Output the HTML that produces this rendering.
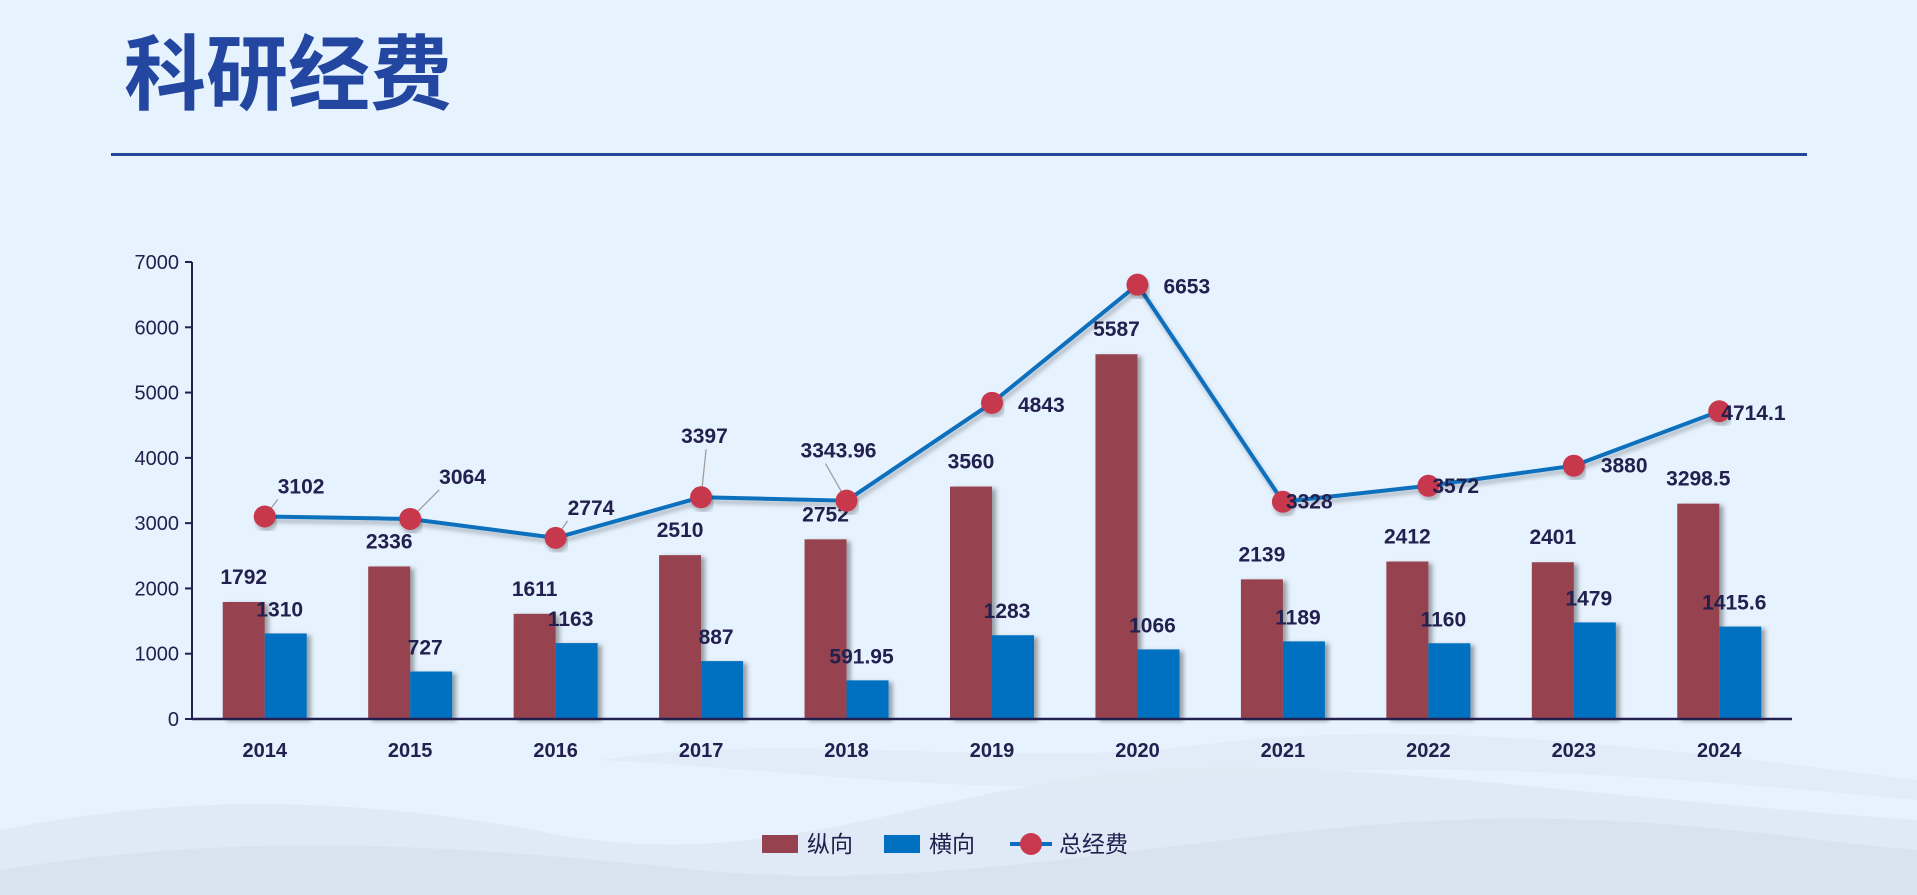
<!DOCTYPE html>
<html><head><meta charset="utf-8"><style>
html,body{margin:0;padding:0;width:1917px;height:895px;overflow:hidden;background:#e6f2fe;}
svg{display:block;}
text{font-family:"Liberation Sans","Noto Sans CJK SC",sans-serif;}
</style></head><body>
<svg id="c" width="1917" height="895" viewBox="0 0 1917 895" xmlns="http://www.w3.org/2000/svg">
<defs>
<filter id="sh" x="-20%" y="-10%" width="150%" height="130%"><feDropShadow dx="4" dy="2" stdDeviation="2.5" flood-color="#000" flood-opacity="0.35"/></filter>
<filter id="lsh" x="-5%" y="-5%" width="110%" height="120%"><feDropShadow dx="2" dy="4" stdDeviation="2" flood-color="#000" flood-opacity="0.25"/></filter>
</defs>
<g>
<path d="M0 830 C200 790 380 800 560 835 C760 870 900 800 1100 775 C1300 750 1500 790 1917 820 L1917 895 L0 895Z" fill="#e0eaf6"/>
<path d="M0 870 C250 830 450 845 700 870 C950 895 1200 830 1450 820 C1650 812 1800 840 1917 850 L1917 895 L0 895Z" fill="#d9e3f0"/>
<path d="M600 760 C800 730 1000 770 1200 745 C1400 720 1600 740 1917 780 L1917 800 C1600 770 1400 760 1200 780 C1000 800 800 770 600 760Z" fill="#dfe9f5" opacity="0.7"/>
</g>
<text x="124" y="103" font-size="82" font-weight="bold" fill="#2347a0" style="font-family:'Noto Sans CJK SC',sans-serif">科研经费</text>
<rect x="111" y="153" width="1696" height="3" fill="#24449a"/>
<g id="plot"></g>
</svg>
<script>
const categories=["2014","2015","2016","2017","2018","2019","2020","2021","2022","2023","2024"];
const verticalValues=[1792,2336,1611,2510,2752,3560,5587,2139,2412,2401,3298.5];
const horizontalValues=[1310,727,1163,887,591.95,1283,1066,1189,1160,1479,1415.6];
const totalValues=[3102,3064,2774,3397,3343.96,4843,6653,3328,3572,3880,4714.1];
const totalLabels=["3102","3064","2774","3397","3343.96","4843","6653","3328","3572","3880","4714.1"];
const yTicks=[0,1000,2000,3000,4000,5000,6000,7000];
// label placement offsets (dx, dy) relative to point
const totalLabelDx=[13,29,12,-20,-46,26,26,3,4,27,2];
const totalLabelDy=[-23,-35,-23,-54,-43,9,9,7,7,7,9];
const hasLeader=[true,true,true,true,true,false,false,false,false,false,false];

const NS="http://www.w3.org/2000/svg";
const g=document.getElementById('plot');
const L=192,R=1792,Y0=719,YT=262,YMAX=7000;
const band=(R-L)/categories.length, bw=42;
const y=v=>Y0-(v/YMAX)*(Y0-YT);
const xc=i=>L+band*(i+0.5);
function mk(tag,attrs,parent){const e=document.createElementNS(NS,tag);for(const k in attrs)e.setAttribute(k,attrs[k]);(parent||g).appendChild(e);return e;}
const ink="#22204e";

// axes
let ax=mk('line',{x1:L,y1:YT,x2:L,y2:Y0,stroke:ink,'stroke-width':2});


yTicks.forEach(t=>{
  const tk=mk('line',{x1:L-7,y1:y(t),x2:L,y2:y(t),stroke:ink,'stroke-width':2});
  
  
  const tl=mk('text',{x:L-13,y:y(t)+7,'text-anchor':'end','font-size':20,fill:ink});
  tl.textContent=t;
  
  
});

// bars
categories.forEach((c,i)=>{
  const cx=xc(i);
  const rb=mk('rect',{x:cx-bw,y:y(verticalValues[i]),width:bw,height:Y0-y(verticalValues[i]),fill:'#96434f',filter:'url(#sh)'});
  
  
  const bb=mk('rect',{x:cx,y:y(horizontalValues[i]),width:bw,height:Y0-y(horizontalValues[i]),fill:'#0070c0',filter:'url(#sh)'});
  
  
});
let xa=mk('line',{x1:L,y1:Y0,x2:R,y2:Y0,stroke:ink,'stroke-width':2.5});



// bar labels + x labels
categories.forEach((c,i)=>{
  const cx=xc(i);
  const a=mk('text',{x:cx-bw/2,y:y(verticalValues[i])-18,'text-anchor':'middle','font-size':21,'font-weight':'bold',fill:ink});
  a.textContent=verticalValues[i];
  
  
  const b=mk('text',{x:cx+bw/2-6,y:y(horizontalValues[i])-17,'text-anchor':'middle','font-size':21,'font-weight':'bold',fill:ink});
  b.textContent=horizontalValues[i];
  
  
  const xl=mk('text',{x:cx,y:757,'text-anchor':'middle','font-size':20,'font-weight':'bold',fill:ink});
  xl.textContent=c;
  
  
});

// line
const pts=totalValues.map((v,i)=>xc(i)+','+y(v)).join(' ');
const pl=mk('polyline',{points:pts,fill:'none',stroke:'#0b6fbd','stroke-width':4,'stroke-linejoin':'round',filter:'url(#lsh)'});


totalValues.forEach((v,i)=>{
  const px=xc(i),py=y(v);
  if(hasLeader[i]){
    const lx=px+totalLabelDx[i]+(totalLabelDx[i]<0?25:0), ly=py+totalLabelDy[i]+6;
    const ld=mk('polyline',{points:px+','+py+' '+lx+','+ly,fill:'none',stroke:'#9a9a9a','stroke-width':1.2});
    
    
  }
  const m=mk('circle',{cx:px,cy:py,r:11,fill:'#c8384e',filter:'url(#lsh)'});
  
  
});
totalValues.forEach((v,i)=>{
  const t=mk('text',{x:xc(i)+totalLabelDx[i],y:y(v)+totalLabelDy[i],'font-size':21,'font-weight':'bold',fill:ink});
  t.textContent=totalLabels[i];
  
  
});

// legend
const lg=mk('g',{});


const e1=mk('rect',{x:762,y:835,width:36,height:18,fill:'#96434f'},lg);


const t1=mk('text',{x:807,y:852,'font-size':23,fill:ink},lg);
t1.textContent='纵向';


const e2=mk('rect',{x:884,y:835,width:36,height:18,fill:'#0070c0'},lg);


const t2=mk('text',{x:929,y:852,'font-size':23,fill:ink},lg);
t2.textContent='横向';


const e3=mk('line',{x1:1010,y1:844,x2:1052,y2:844,stroke:'#0b6fbd','stroke-width':4},lg);


const e4=mk('circle',{cx:1031,cy:844,r:11,fill:'#c8384e'},lg);


const t3=mk('text',{x:1059,y:852,'font-size':23,fill:ink},lg);
t3.textContent='总经费';


</script>
</body></html>
